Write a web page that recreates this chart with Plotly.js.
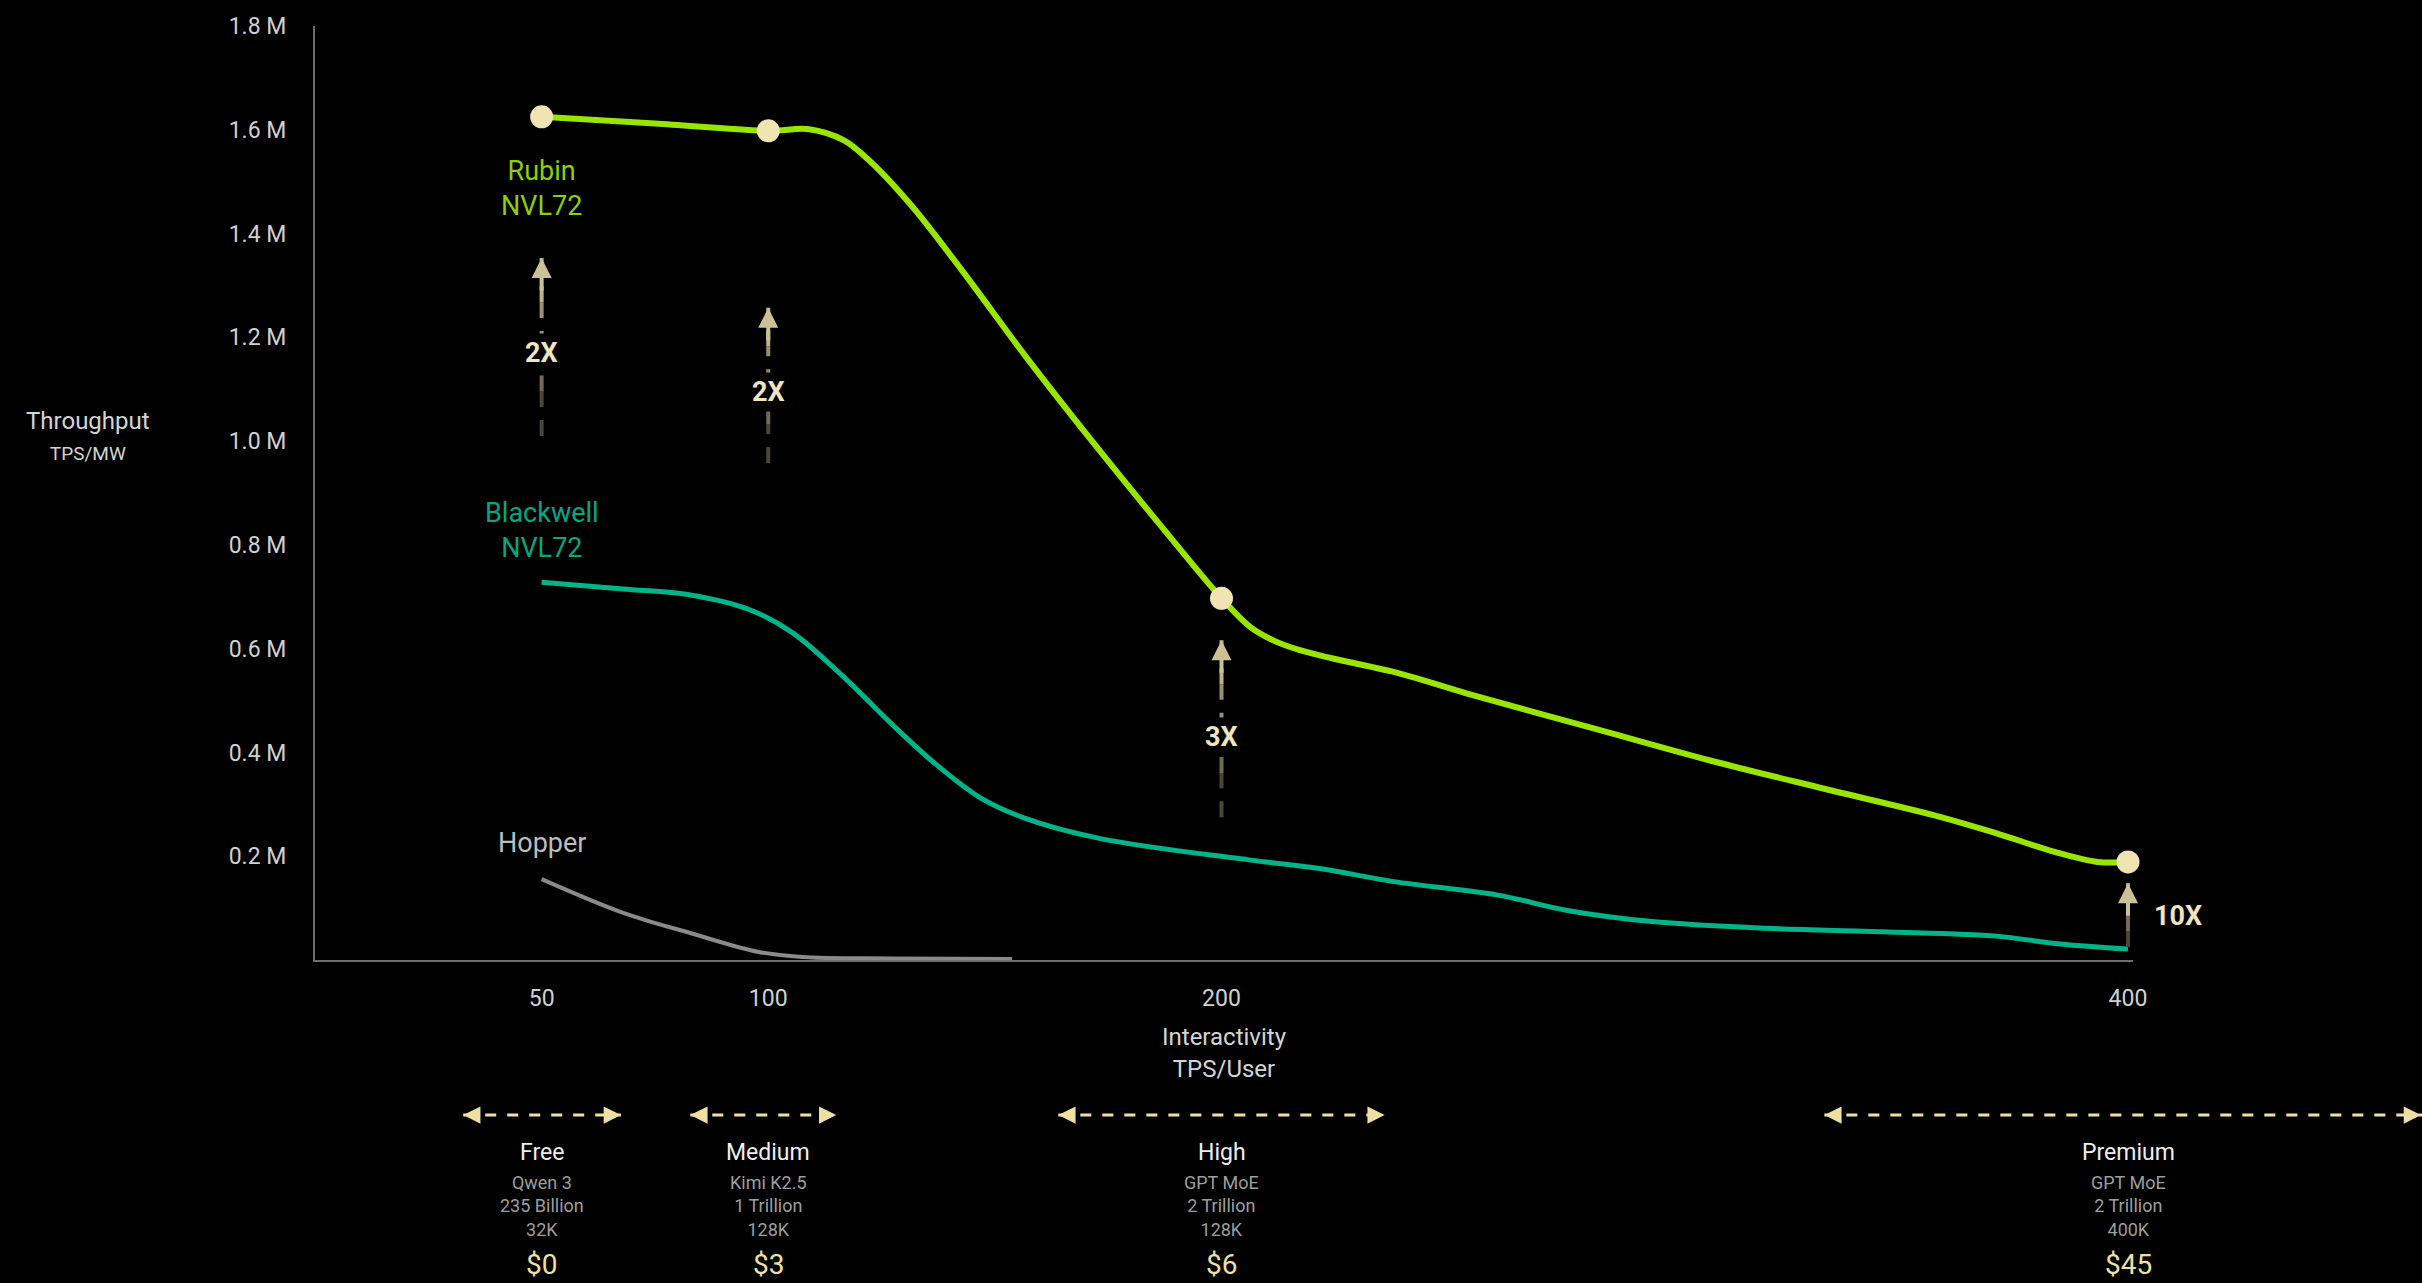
<!DOCTYPE html>
<html>
<head>
<meta charset="utf-8">
<script src="https://cdn.plot.ly/plotly-3.0.1.min.js"></script>
<style>
  html, body { margin: 0; padding: 0; background: #000; }
  #chart { width: 2422px; height: 1283px; }
</style>
</head>
<body>
<div id="chart"></div>
<script>
// ---------------- DATA ----------------
const xTickVals = [50, 100, 200, 400];
const xTickText = ['50', '100', '200', '400'];
const yTickVals = [200000, 400000, 600000, 800000, 1000000, 1200000, 1400000, 1600000, 1800000];
const yTickText = ['0.2 M', '0.4 M', '0.6 M', '0.8 M', '1.0 M', '1.2 M', '1.4 M', '1.6 M', '1.8 M'];

const rubinX = [50, 75, 100, 109, 116.6, 122.5, 131.4, 142.4, 157, 171.8, 186.5, 200, 206.3, 211.4, 217.3, 224.6, 239.4, 254, 283.5, 307.6, 333, 358.5, 371, 383.8, 393.3, 400];
const rubinY = [1625000, 1612000, 1598000, 1601000, 1580000, 1539000, 1456000, 1333000, 1161000, 996000, 838000, 697000, 642000, 616000, 597000, 581000, 552000, 514000, 443000, 385000, 330000, 276000, 244000, 208500, 189000, 189000];

const blackwellX = [50, 68, 82.8, 95.6, 105.3, 117.3, 127.2, 137, 146.9, 156.7, 173.3, 206.4, 221.6, 238, 261, 276, 295, 320.5, 345.8, 371, 383.8, 400];
const blackwellY = [728000, 715000, 703500, 676000, 631000, 540000, 455000, 377000, 312000, 273000, 234000, 192500, 176500, 151000, 125000, 96000, 74000, 61000, 54500, 46000, 32000, 21000];

const hopperX = [50, 68, 82.8, 97.6, 107.5, 127.2, 153.8];
const hopperY = [156000, 91000, 52000, 16000, 6000, 3000, 2000];

const rubinMarkX = [50, 100, 200, 400];
const rubinMarkY = [1625000, 1598000, 697000, 189000];

const seriesLabels = ['Rubin<br>NVL72', 'Blackwell<br>NVL72', 'Hopper'];
const seriesLabelX = [50, 50, 50];
const seriesLabelY = [1486000, 828000, 225000];

const gainX = [50, 100, 200, 400];
const gainFrom = [1010000, 958000, 275000, 25000];
const gainTo = [1353000, 1257000, 616000, 148000];
const gainLabelY = [1169000, 1095000, 429000, 85000];
const gainLabels = ['2X', '2X', '3X', '10X'];

const tierCenters = [50, 100, 200, 400];
const tierStart = [32.7, 82.8, 164, 333];
const tierEnd = [67.5, 115, 236, 466.6];
const tierNames = ['Free', 'Medium', 'High', 'Premium'];
const tierModels = ['Qwen 3', 'Kimi K2.5', 'GPT MoE', 'GPT MoE'];
const tierParams = ['235 Billion', '1 Trillion', '2 Trillion', '2 Trillion'];
const tierContext = ['32K', '128K', '128K', '400K'];
const tierPrices = ['$0', '$3', '$6', '$45'];

// ---------------- STYLE / LAYOUT ----------------
const FONT = 'Roboto, "Noto Sans", "Liberation Sans", sans-serif';
const W = 2422, H = 1283;
const PLOT_L = 315, PLOT_R = 2133, PLOT_T = 26, PLOT_B = 960;
const XMAX = 401.1;
const RUBIN = '#98e500', RUBIN_TXT = '#8bd000';
const BW = '#00b489', BW_TXT = '#00a884';
const HOP = '#8a8a8a', HOP_TXT = '#bdbdbd';
const CREAM = '#f1e4b3';
const TIER = '#eee0a2';

function paperY(p) { return (PLOT_B - p) / (PLOT_B - PLOT_T); }
function paperX(x) { return x / XMAX; }

const traces = [
  { x: hopperX, y: hopperY, mode: 'lines', line: { color: HOP, width: 4, shape: 'spline', smoothing: 1 }, hoverinfo: 'skip', cliponaxis: false },
  { x: blackwellX, y: blackwellY, mode: 'lines', line: { color: BW, width: 5, shape: 'spline', smoothing: 1 }, hoverinfo: 'skip', cliponaxis: false },
  { x: rubinX, y: rubinY, mode: 'lines', line: { color: RUBIN, width: 6, shape: 'spline', smoothing: 1 }, hoverinfo: 'skip', cliponaxis: false },
  { x: rubinMarkX, y: rubinMarkY, mode: 'markers', marker: { color: CREAM, size: 23, line: { width: 0 } }, hoverinfo: 'skip', cliponaxis: false }
];

const shapes = [];
const annotations = [];

// series labels
const labelColors = [RUBIN_TXT, BW_TXT, HOP_TXT];
seriesLabels.forEach((t, i) => {
  annotations.push({ x: seriesLabelX[i], y: seriesLabelY[i], xref: 'x', yref: 'y', text: t, showarrow: false,
    xanchor: 'center', yanchor: 'middle', font: { family: FONT, size: 27, color: labelColors[i] } });
});

// vertical gain arrows (dashed, fading toward the bottom)
const fadeCols = ['#4a4638', '#716b56', '#999073', '#bdb28b'];
gainX.forEach((x, i) => {
  const y0 = gainFrom[i], y1 = gainTo[i];
  const n = fadeCols.length;
  for (let k = 0; k < n; k++) {
    shapes.push({ type: 'line', xref: 'x', yref: 'y', x0: x, x1: x,
      y0: y0 + (y1 - y0) * k / n, y1: y0 + (y1 - y0) * (k + 1) / n,
      line: { color: fadeCols[k], width: 4, dash: '16px,13px' }, layer: 'above' });
  }
  annotations.push({ x: x, y: y1, xref: 'x', yref: 'y', ax: 0, ay: 34, axref: 'pixel', ayref: 'pixel',
    text: '', showarrow: true, arrowhead: 2, arrowsize: 1, arrowwidth: 4, arrowcolor: '#cbc197', standoff: 0 });
  const right = (i === gainX.length - 1);
  annotations.push({ x: x, y: gainLabelY[i], xref: 'x', yref: 'y', text: '<b>' + gainLabels[i] + '</b>', showarrow: false,
    xanchor: right ? 'left' : 'center', yanchor: 'middle', xshift: right ? 22 : 0,
    bgcolor: right ? 'rgba(0,0,0,0)' : '#000', borderpad: 3,
    font: { family: FONT, size: 27, color: '#efe4bd' } });
});

// y-axis title (horizontal)
annotations.push({ x: (88 - PLOT_L) / (PLOT_R - PLOT_L), y: 1010000, xref: 'paper', yref: 'y',
  text: 'Throughput<br><span style="font-size:19px">TPS/MW</span>', showarrow: false,
  xanchor: 'center', yanchor: 'middle', font: { family: FONT, size: 24, color: '#d4d4d4' } });

// bottom tiers
const yArrow = paperY(1115);
tierCenters.forEach((c, i) => {
  const a = paperX(tierStart[i]), b = paperX(tierEnd[i]);
  shapes.push({ type: 'line', xref: 'paper', yref: 'paper', x0: a, x1: b, y0: yArrow, y1: yArrow,
    line: { color: TIER, width: 3, dash: '11px,11px' } });
  annotations.push({ x: a, y: yArrow, xref: 'paper', yref: 'paper', ax: 18, ay: 0, text: '', showarrow: true,
    arrowhead: 2, arrowsize: 1.15, arrowwidth: 3, arrowcolor: TIER, standoff: 0 });
  annotations.push({ x: b, y: yArrow, xref: 'paper', yref: 'paper', ax: -18, ay: 0, text: '', showarrow: true,
    arrowhead: 2, arrowsize: 1.15, arrowwidth: 3, arrowcolor: TIER, standoff: 0 });
  annotations.push({ x: c, y: paperY(1152), xref: 'x', yref: 'paper', text: tierNames[i], showarrow: false,
    xanchor: 'center', yanchor: 'middle', font: { family: FONT, size: 23, color: '#eeeeee' } });
  annotations.push({ x: c, y: paperY(1206), xref: 'x', yref: 'paper',
    text: tierModels[i] + '<br>' + tierParams[i] + '<br>' + tierContext[i], showarrow: false,
    xanchor: 'center', yanchor: 'middle', font: { family: FONT, size: 18, color: '#9e9e9e' } });
  annotations.push({ x: c, y: paperY(1264), xref: 'x', yref: 'paper', text: tierPrices[i], showarrow: false,
    xanchor: 'center', yanchor: 'middle', font: { family: FONT, size: 28, color: '#eee0a2' } });
});

const layout = {
  width: W, height: H,
  paper_bgcolor: '#000', plot_bgcolor: '#000',
  margin: { l: PLOT_L, r: W - PLOT_R, t: PLOT_T, b: H - PLOT_B, pad: 0 },
  showlegend: false,
  hovermode: false,
  font: { family: FONT, color: '#d4d4d4' },
  xaxis: {
    range: [0, XMAX], tickvals: xTickVals, ticktext: xTickText, ticks: '',
    showgrid: false, zeroline: false, showline: true, linecolor: '#6e6e6e', linewidth: 2,
    tickfont: { family: FONT, size: 23, color: '#d0d0d0' }, ticklabelstandoff: 16,
    title: { text: 'Interactivity<br>TPS/User', font: { family: FONT, size: 24, color: '#d4d4d4' }, standoff: 18 },
    fixedrange: true
  },
  yaxis: {
    range: [0, 1800000], tickvals: yTickVals, ticktext: yTickText, ticks: '',
    showgrid: false, zeroline: false, showline: true, linecolor: '#6e6e6e', linewidth: 2,
    tickfont: { family: FONT, size: 23, color: '#d0d0d0' }, ticklabelstandoff: 22,
    fixedrange: true
  },
  shapes: shapes,
  annotations: annotations
};

Plotly.newPlot('chart', traces, layout, { displayModeBar: false, staticPlot: true });
</script>
</body>
</html>
